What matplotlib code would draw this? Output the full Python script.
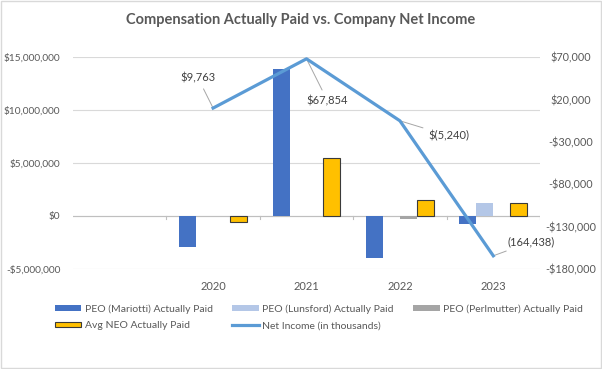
import matplotlib.pyplot as plt
from matplotlib.patches import Rectangle
from matplotlib.ticker import FuncFormatter
import numpy as np

# data (nan = no bar)
nan = np.nan
years = ["", "2020", "2021", "2022", "2023"]
mariotti = [nan, -2900000, 13900000, -3930000, -790000]
lunsford = [nan, nan, nan, nan, 1220000]
perlmutter = [nan, nan, nan, -250000, nan]
avg_neo = [nan, -600000, 5460000, 1480000, 1200000]
net_income = [nan, 9763, 67854, -5240, -164438]
ni_labels = ["", "$9,763", "$67,854", "$(5,240)", "(164,438)"]

grey = "#595959"
plt.rcParams['font.family'] = ['Lato', 'DejaVu Sans']

fig = plt.figure(figsize=(6.02, 3.69), dpi=100)
ax = fig.add_axes([73/602, 1-269/369, (540-73)/602, (269-57)/369])
ax2 = ax.twinx()

x = np.arange(len(years))
w = 0.182
ax.bar(x - 1.5*w, mariotti, w, color="#4472C4", label="PEO (Mariotti) Actually Paid", zorder=3)
ax.bar(x - 0.5*w, lunsford, w, color="#B4C7E7", label="PEO (Lunsford) Actually Paid", zorder=3)
ax.bar(x + 0.5*w, perlmutter, w, color="#A5A5A5", label="PEO (Perlmutter) Actually Paid", zorder=3)
ax.bar(x + 1.5*w, avg_neo, w, color="#FFC000", edgecolor="#3a3a3a", linewidth=0.8,
       label="Avg NEO Actually Paid", zorder=3)

def money(v, p):
    return ("-$" if v < 0 else "$") + f"{abs(v):,.0f}"

ax.set_xlim(-0.5, 4.5)
ax.set_ylim(-5000000, 15000000)
ax.set_yticks(np.arange(-5000000, 15000001, 5000000))
ax.yaxis.set_major_formatter(FuncFormatter(money))
ax.set_xticks(x)
ax.set_xticklabels(years)
ax.tick_params(axis="x", length=0, pad=9, labelsize=8, labelcolor=grey)
ax.tick_params(axis="y", length=0, pad=9, labelsize=7.3, labelcolor=grey)
ax.grid(axis="y", color="#D9D9D9", linewidth=0.8, zorder=0)
ax.axhline(0, color="#BFBFBF", linewidth=0.8, zorder=2)
for b in np.arange(0.5, 4.6, 1.0):
    ax.plot([b, b], [0, -300000], color="#BFBFBF", linewidth=0.8, zorder=2)
for s in ax.spines.values():
    s.set_visible(False)
for s in ax2.spines.values():
    s.set_visible(False)

ax2.plot(x, net_income, color="#5B9BD5", linewidth=2.3, label="Net Income (in thousands)", zorder=4)
ax2.set_ylim(-180000, 70000)
ax2.set_yticks(np.arange(-180000, 70001, 50000))
ax2.yaxis.set_major_formatter(FuncFormatter(money))
ax2.tick_params(axis="y", length=0, pad=22, labelsize=7.8, labelcolor=grey)
for t in ax2.get_yticklabels():
    t.set_ha("center")

# data labels with leader lines
offsets = {1: (-15, 30), 2: (21, -42), 3: (49, -15), 4: (38, 14)}
for i, (dx, dy) in offsets.items():
    ax2.annotate(ni_labels[i], (x[i], net_income[i]), xytext=(dx, dy), textcoords="offset pixels",
                 ha="center", va="center", fontsize=8, color="#404040",
                 arrowprops=dict(arrowstyle="-", color="#A6A6A6", linewidth=0.7,
                                 shrinkA=2, shrinkB=1))

fig.text(0.5, 1-20/369, "Compensation Actually Paid vs. Company Net Income",
         ha="center", va="center", fontsize=10.5, fontweight="bold", color=grey)

# legend, reordered so rows read left to right
h1, l1 = ax.get_legend_handles_labels()
h2, l2 = ax2.get_legend_handles_labels()
hs = h1 + h2
ls = l1 + l2
order = [0, 3, 1, 4, 2]
leg = fig.legend([hs[i] for i in order], [ls[i] for i in order], ncol=3, loc="upper left",
                 bbox_to_anchor=(55/602, 1-304/369), frameon=False, fontsize=7.5,
                 handlelength=2.5, handleheight=0.45, borderpad=0, borderaxespad=0,
                 columnspacing=1.9, handletextpad=0.35, labelspacing=0.75)
for t in leg.get_texts():
    t.set_color(grey)

fig.patches.append(Rectangle((0.002, 0.002), 0.996, 0.996, transform=fig.transFigure,
                             fill=False, edgecolor="#D9D9D9", linewidth=1))

fig.savefig("out.png", dpi=100)
